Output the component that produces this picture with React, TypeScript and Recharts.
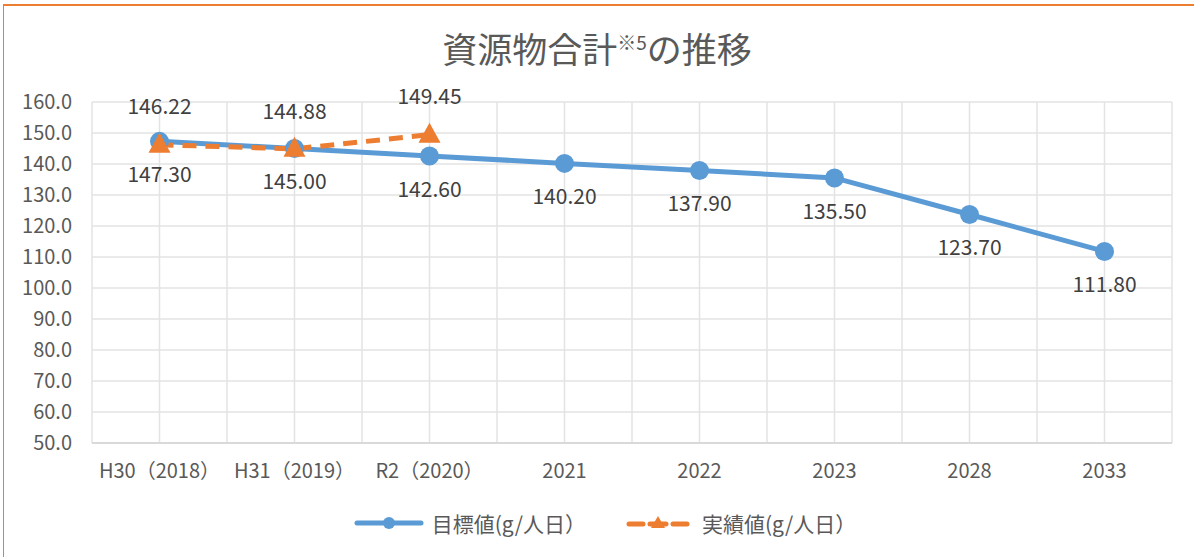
import React from 'react'
import { LineChart, Line, XAxis, YAxis, CartesianGrid, LabelList, Legend } from 'recharts'

const categories = ['H30（2018）', 'H31（2019）', 'R2（2020）', '2021', '2022', '2023', '2028', '2033']
const targetValues = [147.3, 145.0, 142.6, 140.2, 137.9, 135.5, 123.7, 111.8]
const actualValues: (number | null)[] = [146.22, 144.88, 149.45, null, null, null, null, null]
const yTicks = [50, 60, 70, 80, 90, 100, 110, 120, 130, 140, 150, 160]

const BLUE = '#5B9BD5'
const ORANGE = '#ED7D31'
const TEXT = '#595959'
const LABEL = '#404040'
const FONT = '"Noto Sans CJK JP", "Noto Sans", sans-serif'

const data = categories.map((c, i) => ({ idx: i, name: c, target: targetValues[i], actual: actualValues[i] }))

// gridlines at every category center and every boundary
const xTicks: number[] = []
for (let i = 0; i <= categories.length * 2; i++) xTicks.push(-0.5 + i * 0.5)

function Triangle({ cx, cy }: any) {
  if (cx == null || cy == null) return null
  return <path d={`M${cx},${cy - 12} L${cx + 11},${cy + 8} L${cx - 11},${cy + 8} Z`} fill={ORANGE} />
}

function LegendBox() {
  return (
    <div style={{ height: 40, display: 'flex', justifyContent: 'center', alignItems: 'center',
      fontFamily: FONT, fontSize: 21, color: TEXT, paddingLeft: 38 }}>
      <div style={{ display: 'flex', alignItems: 'center', gap: 8 }}>
        <svg width={70} height={20}>
          <line x1={3} y1={10} x2={67} y2={10} stroke={BLUE} strokeWidth={5} strokeLinecap="round" />
          <circle cx={35} cy={10} r={6} fill={BLUE} />
        </svg>
        <span>目標値(g/人日）</span>
      </div>
      <div style={{ display: 'flex', alignItems: 'center', gap: 12, marginLeft: 40 }}>
        <svg width={64} height={20}>
          <line x1={3} y1={11} x2={17} y2={11} stroke={ORANGE} strokeWidth={5} strokeLinecap="round" />
          <line x1={47} y1={11} x2={61} y2={11} stroke={ORANGE} strokeWidth={5} strokeLinecap="round" />
          <line x1={24} y1={11} x2={40} y2={11} stroke={ORANGE} strokeWidth={5} strokeLinecap="round" />
          <path d="M32,3 L39,15 L25,15 Z" fill={ORANGE} />
        </svg>
        <span>実績値(g/人日）</span>
      </div>
    </div>
  )
}

export default function App() {
  return (
    <div style={{ position: 'fixed', left: 0, top: 0, width: 1194, height: 559, background: '#fff' }}>
      <div style={{ position: 'absolute', left: 3, top: 4, right: 0, bottom: 2,
        borderTop: `2px solid ${ORANGE}`, borderLeft: `1.5px solid ${ORANGE}` }} />
      <div style={{ position: 'absolute', left: 0, top: 22, width: 1194, textAlign: 'center',
        fontFamily: FONT, fontSize: 35, color: TEXT, lineHeight: '52px' }}>
        資源物合計<span style={{ fontSize: 19, position: 'relative', top: -13 }}>※5</span>の推移
      </div>
      <LineChart width={1194} height={559} data={data}
        margin={{ top: 102, right: 22, bottom: 16, left: 0 }}
        style={{ position: 'absolute', left: 0, top: 0 }}>
        <CartesianGrid stroke="#e3e3e3" strokeWidth={1.5} />
        <XAxis dataKey="idx" type="number" domain={[-0.5, categories.length - 0.5]} ticks={xTicks}
          interval={0} height={60} tickSize={0} tickMargin={21} axisLine={{ stroke: '#d9d9d9', strokeWidth: 2 }}
          tickFormatter={(v: number) => (Number.isInteger(v) ? categories[v] : '')}
          tick={{ fill: TEXT, fontSize: 20, fontFamily: FONT }} />
        <YAxis domain={[50, 160]} ticks={yTicks} interval={0} width={92} tickSize={0} tickMargin={20}
          axisLine={false} tickFormatter={(v: number) => v.toFixed(1)}
          tick={{ fill: TEXT, fontSize: 20, fontFamily: FONT }} />
        <Legend verticalAlign="bottom" content={() => <LegendBox />} />
        <Line dataKey="target" stroke={BLUE} strokeWidth={5} isAnimationActive={false}
          dot={{ r: 9.5, fill: BLUE, stroke: BLUE, strokeWidth: 0 }} activeDot={false}>
          <LabelList dataKey="target" content={(p: any) => (
            <text x={p.x} y={p.y + 35} textAnchor="middle" dominantBaseline="middle"
              fill={LABEL} fontSize={21} fontFamily={FONT}>{Number(p.value).toFixed(2)}</text>
          )} />
        </Line>
        <Line dataKey="actual" stroke={ORANGE} strokeWidth={5} strokeDasharray="14 9" isAnimationActive={false}
          dot={<Triangle />} activeDot={false} connectNulls={false}>
          <LabelList dataKey="actual" content={(p: any) => (p.value == null ? null :
            <text x={p.x} y={p.y - 36} textAnchor="middle" dominantBaseline="middle"
              fill={LABEL} fontSize={21} fontFamily={FONT}>{Number(p.value).toFixed(2)}</text>
          )} />
        </Line>
      </LineChart>
    </div>
  )
}
